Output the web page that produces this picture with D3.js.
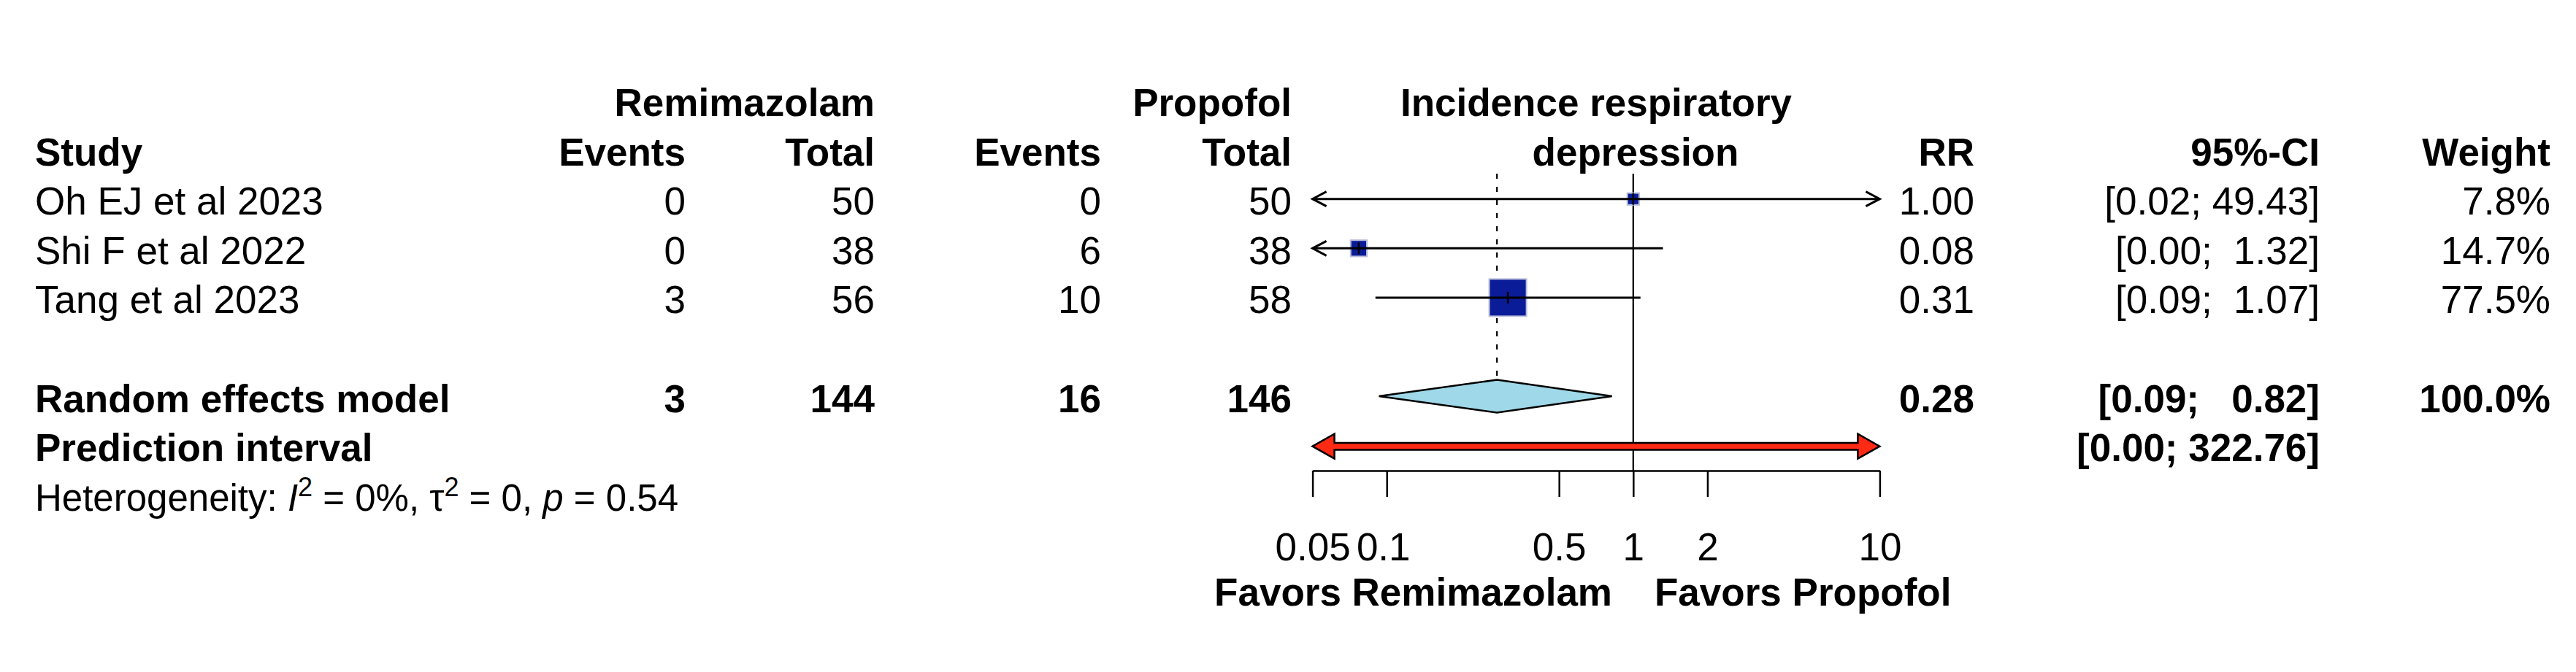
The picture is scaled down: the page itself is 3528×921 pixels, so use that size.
<!DOCTYPE html>
<html><head><meta charset="utf-8">
<script src="https://cdn.jsdelivr.net/npm/d3@7"></script>
<style>
body{margin:0;background:#fff}
text{font-family:"Liberation Sans",Arial,Helvetica,sans-serif;white-space:pre;fill:#000}
</style>
</head><body><svg id="c" width="3528" height="921"></svg>
<script>
// ---- data ----
const studies = ["Oh EJ et al 2023", "Shi F et al 2022", "Tang et al 2023"];
const eventsRemi = [0, 0, 3];
const totalRemi = [50, 38, 56];
const eventsProp = [0, 6, 10];
const totalProp = [50, 38, 58];
const rr = [1.00, 0.077, 0.31];
const ciLower = [0.02, 0.0045, 0.09];
const ciUpper = [49.43, 1.32, 1.07];
const weights = [7.8, 14.7, 77.5];
const pooledLabel = "Random effects model";
const pooledEvents = [3, 16];
const pooledTotals = [144, 146];
const pooledRR = 0.28;
const pooledCI = [0.093, 0.82];
const pooledWeight = 100.0;
const predLabel = "Prediction interval";
const predCI = [0.0003, 322.76];
const tickValues = [0.05, 0.1, 0.5, 1, 2, 10];
const tickLabels = ["0.05", "0.1", "0.5", "1", "2", "10"];
const hetero = {I2: "0%", tau2: "0", p: "0.54"};
const labelLeft = "Favors Remimazolam";
const labelRight = "Favors Propofol";

// ---- layout ----
const svg = d3.select("#c");
const FS = 53;
const x = d3.scaleLog().domain([0.05, 10]).range([1797.6, 2574.4]);
const row = d3.scaleLinear().domain([0, 8]).range([159, 699.8]);
const mid = i => row(i) - 21.5;
const side = d3.scaleSqrt().domain([0, 77.5]).range([0, 51]);
const col = {study: 48, eR: 939, tR: 1198, eP: 1508, tP: 1769, rr: 2704, ci: 3177, w: 3493};

function txt(xp, yp, s, anchor, bold, size) {
  return svg.append("text").attr("x", xp).attr("y", yp)
    .attr("text-anchor", anchor || "start")
    .attr("font-weight", bold ? "bold" : "normal")
    .attr("font-size", size || FS).text(s);
}
function fmtCI(lo, hi, pad) {
  return "[" + lo.toFixed(2) + "; " + hi.toFixed(2).padStart(pad, " ") + "]";
}

// headers
txt(col.tR, row(0), "Remimazolam", "end", true);
txt(col.tP, row(0), "Propofol", "end", true);
txt(2186, row(0), "Incidence respiratory", "middle", true);
txt(2240, row(1), "depression", "middle", true);
txt(col.study, row(1), "Study", "start", true);
txt(col.eR, row(1), "Events", "end", true);
txt(col.tR, row(1), "Total", "end", true);
txt(col.eP, row(1), "Events", "end", true);
txt(col.tP, row(1), "Total", "end", true);
txt(col.rr, row(1), "RR", "end", true);
txt(col.ci, row(1), "95%-CI", "end", true);
txt(col.w, row(1), "Weight", "end", true);

// study rows text
studies.forEach((s, i) => {
  const r = i + 2;
  txt(col.study, row(r), s, "start");
  txt(col.eR, row(r), String(eventsRemi[i]), "end");
  txt(col.tR, row(r), String(totalRemi[i]), "end");
  txt(col.eP, row(r), String(eventsProp[i]), "end");
  txt(col.tP, row(r), String(totalProp[i]), "end");
  txt(col.rr, row(r), rr[i].toFixed(2), "end");
  txt(col.ci, row(r), fmtCI(ciLower[i], ciUpper[i], 5), "end");
  txt(col.w, row(r), weights[i].toFixed(1) + "%", "end");
});

// pooled rows text
txt(col.study, row(6), pooledLabel, "start", true);
txt(col.eR, row(6), String(pooledEvents[0]), "end", true);
txt(col.tR, row(6), String(pooledTotals[0]), "end", true);
txt(col.eP, row(6), String(pooledEvents[1]), "end", true);
txt(col.tP, row(6), String(pooledTotals[1]), "end", true);
txt(col.rr, row(6), pooledRR.toFixed(2), "end", true);
txt(col.ci, row(6), fmtCI(pooledCI[0], pooledCI[1], 6), "end", true);
txt(col.w, row(6), pooledWeight.toFixed(1) + "%", "end", true);
txt(col.study, row(7), predLabel, "start", true);
txt(col.ci, row(7), fmtCI(predCI[0], predCI[1], 6), "end", true);

// heterogeneity
const ht = txt(col.study, row(8), "", "start", false, 51);
ht.append("tspan").text("Heterogeneity: ");
ht.append("tspan").attr("font-style", "italic").text("I");
ht.append("tspan").attr("dy", -20).attr("font-size", 36).text("2");
ht.append("tspan").attr("dy", 20).text(" = " + hetero.I2 + ", τ");
ht.append("tspan").attr("dy", -20).attr("font-size", 36).text("2");
ht.append("tspan").attr("dy", 20).text(" = " + hetero.tau2 + ", ");
ht.append("tspan").attr("font-style", "italic").text("p");
ht.append("tspan").text(" = " + hetero.p);

// ---- forest ----
const axisY = 645;
const g = svg.append("g");
// reference line at 1
g.append("line").attr("x1", x(1)).attr("x2", x(1)).attr("y1", 238).attr("y2", axisY)
  .attr("stroke", "#000").attr("stroke-width", 2.2);
// dashed pooled line
g.append("line").attr("x1", x(pooledRR)).attr("x2", x(pooledRR)).attr("y1", 238).attr("y2", mid(6) - 22.5)
  .attr("stroke", "#000").attr("stroke-width", 2.2).attr("stroke-dasharray", "7,11");

// study CIs
const xmin = x.domain()[0], xmax = x.domain()[1];
studies.forEach((s, i) => {
  const cy = mid(i + 2);
  const sz = side(weights[i]);
  g.append("rect").attr("x", x(rr[i]) - sz / 2).attr("y", cy - sz / 2)
    .attr("width", sz).attr("height", sz)
    .attr("fill", "#0b1c99").attr("stroke", "#b8bcd8").attr("stroke-width", 2);
  const lo = Math.max(ciLower[i], xmin), hi = Math.min(ciUpper[i], xmax);
  g.append("line").attr("x1", x(lo)).attr("x2", x(hi)).attr("y1", cy).attr("y2", cy)
    .attr("stroke", "#000").attr("stroke-width", 3);
  if (ciLower[i] < xmin) {
    g.append("path").attr("d", `M${x(xmin) + 19},${cy - 10}L${x(xmin)},${cy}L${x(xmin) + 19},${cy + 10}`)
      .attr("fill", "none").attr("stroke", "#000").attr("stroke-width", 3);
  }
  if (ciUpper[i] > xmax) {
    g.append("path").attr("d", `M${x(xmax) - 19},${cy - 10}L${x(xmax)},${cy}L${x(xmax) - 19},${cy + 10}`)
      .attr("fill", "none").attr("stroke", "#000").attr("stroke-width", 3);
  }
  g.append("line").attr("x1", x(rr[i])).attr("x2", x(rr[i])).attr("y1", cy - 8).attr("y2", cy + 8)
    .attr("stroke", "#000").attr("stroke-width", 2.5);
});

// diamond
const dy = mid(6);
g.append("path")
  .attr("d", `M${x(pooledCI[0])},${dy}L${x(pooledRR)},${dy - 22.5}L${x(pooledCI[1])},${dy}L${x(pooledRR)},${dy + 22.5}Z`)
  .attr("fill", "#9fd8e8").attr("stroke", "#000").attr("stroke-width", 2.5);

// prediction interval
const py = mid(7) + 1;
const p0 = x(Math.max(predCI[0], xmin)), p1 = x(Math.min(predCI[1], xmax));
const ah = 30, aw = 17, bw = 4.8;
g.append("path")
  .attr("d", `M${p0},${py}L${p0 + ah},${py - aw}L${p0 + ah},${py - bw}L${p1 - ah},${py - bw}L${p1 - ah},${py - aw}L${p1},${py}L${p1 - ah},${py + aw}L${p1 - ah},${py + bw}L${p0 + ah},${py + bw}L${p0 + ah},${py + aw}Z`)
  .attr("fill", "#ff2a14").attr("stroke", "#000").attr("stroke-width", 2.5);

// axis
const ax = svg.append("g").attr("transform", `translate(0,${axisY})`)
  .call(d3.axisBottom(x).tickValues(tickValues).tickSize(36).tickSizeOuter(0)
    .tickFormat((d, i) => tickLabels[i]));
ax.select(".domain").attr("stroke", "#000").attr("stroke-width", 2.5);
ax.selectAll(".tick line").attr("stroke", "#000").attr("stroke-width", 2.5);
ax.selectAll(".tick text").attr("y", 123).attr("dy", 0)
  .attr("font-size", FS).attr("font-family", "Liberation Sans, Arial, sans-serif").attr("fill", "#000")
  .attr("dx", (d, i) => i === 1 ? -5 : 0);
ax.attr("font-family", null).attr("font-size", null);

// favors labels
txt(2208, 830, labelLeft, "end", true);
txt(2266, 830, labelRight, "start", true);
</script>
</body></html>
